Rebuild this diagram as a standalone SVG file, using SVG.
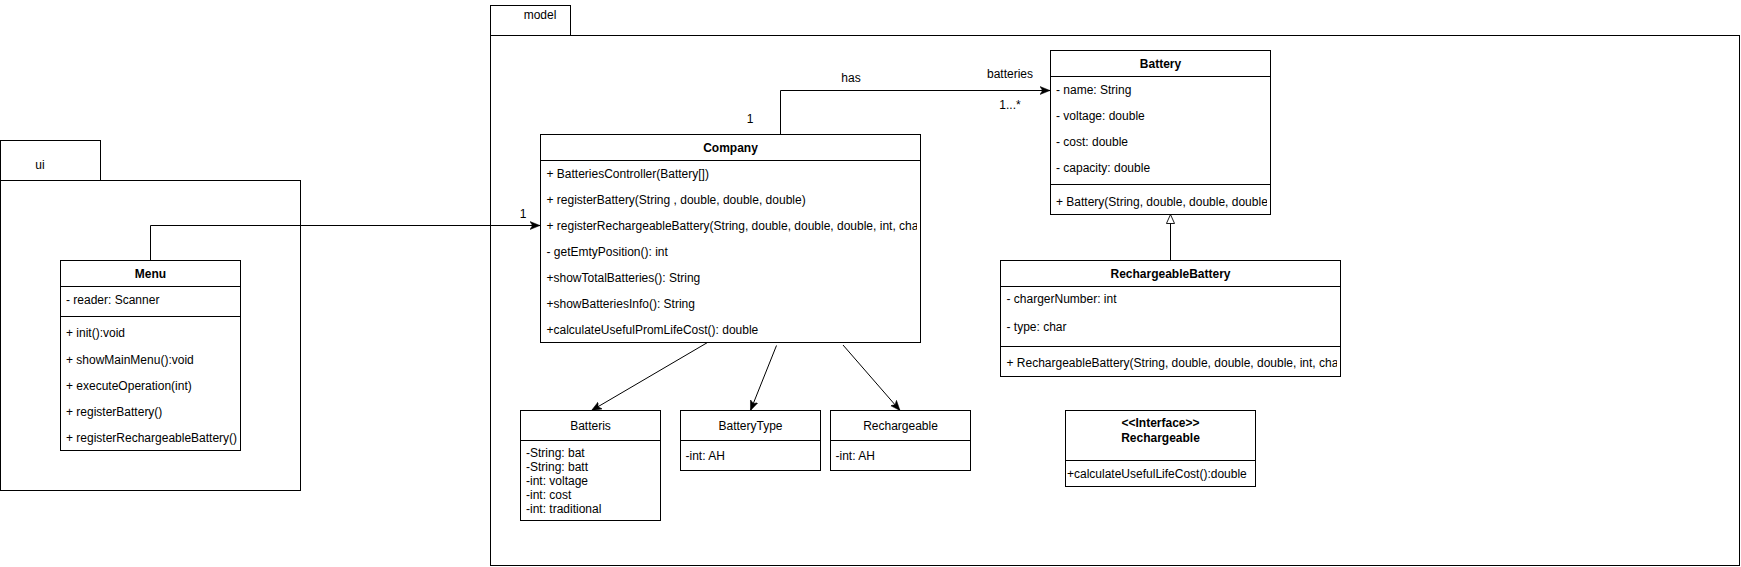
<svg xmlns="http://www.w3.org/2000/svg" width="1741" height="567" viewBox="0 0 1741 567">
<style>
text{font-family:"Liberation Sans",Arial,sans-serif;font-size:12px;fill:#000}
.b{font-weight:bold}
.m{text-anchor:middle}
.box{fill:#fff;stroke:#000;stroke-width:1}
.ln{stroke:#000;stroke-width:1;fill:none}
</style>
<defs>
<marker id="arr" viewBox="0 0 10 10" refX="10" refY="5" markerWidth="10" markerHeight="10" markerUnits="userSpaceOnUse" orient="auto">
<path d="M0,1 L10,5 L0,9 L2.5,5 Z" fill="#000" stroke="#000" stroke-width="0.5"/>
</marker>
<marker id="tri" viewBox="0 0 10 10" refX="10" refY="5" markerWidth="9" markerHeight="9" markerUnits="userSpaceOnUse" orient="auto">
<path d="M0,0.5 L10,5 L0,9.5 Z" fill="#fff" stroke="#000" stroke-width="1"/>
</marker>
<clipPath id="cCompany"><rect x="540" y="134" width="377" height="209"/></clipPath>
<clipPath id="cBattery"><rect x="1050" y="50" width="217" height="165"/></clipPath>
<clipPath id="cRB"><rect x="1000" y="260" width="337" height="117"/></clipPath>
</defs>

<g id="pkg-ui">
<rect class="box" x="0.5" y="140.5" width="100" height="40"/>
<rect class="box" x="0.5" y="180.5" width="300" height="310"/>
<text class="m" x="40" y="169">ui</text>
</g>

<g id="pkg-model">
<rect class="box" x="490.5" y="5.5" width="80" height="30"/>
<rect class="box" x="490.5" y="35.5" width="1249" height="530"/>
<text class="m" x="540" y="19">model</text>
</g>

<g id="connectors">
<polyline class="ln" points="150.5,260.5 150.5,225.5 540,225.5" marker-end="url(#arr)"/>
<polyline class="ln" points="780.5,134.5 780.5,90.5 1050,90.5" marker-end="url(#arr)"/>
<line class="ln" x1="1170.5" y1="260.5" x2="1170.5" y2="214.5" marker-end="url(#tri)"/>
<line class="ln" x1="707.5" y1="342.5" x2="591.5" y2="410.5" marker-end="url(#arr)"/>
<line class="ln" x1="776.5" y1="345.5" x2="750.5" y2="410.5" marker-end="url(#arr)"/>
<line class="ln" x1="843" y1="345" x2="900" y2="410.5" marker-end="url(#arr)"/>
<text class="m" x="523" y="218">1</text>
<text class="m" x="851" y="82">has</text>
<text class="m" x="750" y="123">1</text>
<text class="m" x="1010" y="78">batteries</text>
<text class="m" x="1010" y="109">1...*</text>
</g>

<g id="Menu">
<rect class="box" x="60.5" y="260.5" width="180" height="190"/>
<line class="ln" x1="60.5" y1="286.5" x2="240.5" y2="286.5"/>
<line class="ln" x1="60.5" y1="316.5" x2="240.5" y2="316.5"/>
<text class="b m" x="150.5" y="278">Menu</text>
<text x="66" y="304">- reader: Scanner</text>
<text x="66" y="337">+ init():void</text>
<text x="66" y="364">+ showMainMenu():void</text>
<text x="66" y="390">+ executeOperation(int)</text>
<text x="66" y="416">+ registerBattery()</text>
<text x="66" y="442">+ registerRechargeableBattery()</text>
</g>

<g id="Company">
<rect class="box" x="540.5" y="134.5" width="380" height="208"/>
<line class="ln" x1="540.5" y1="160.5" x2="920.5" y2="160.5"/>
<text class="b m" x="730.5" y="152">Company</text>
<g clip-path="url(#cCompany)">
<text x="546.5" y="178">+ BatteriesController(Battery[])</text>
<text x="546.5" y="204">+ registerBattery(String , double, double, double)</text>
<text x="546.5" y="230">+ registerRechargeableBattery(String, double, double, double, int, cha</text>
<text x="546.5" y="256">- getEmtyPosition(): int</text>
<text x="546.5" y="282">+showTotalBatteries(): String</text>
<text x="546.5" y="308">+showBatteriesInfo(): String</text>
<text x="546.5" y="334">+calculateUsefulPromLifeCost(): double</text>
</g>
</g>

<g id="Battery">
<rect class="box" x="1050.5" y="50.5" width="220" height="164"/>
<line class="ln" x1="1050.5" y1="76.5" x2="1270.5" y2="76.5"/>
<line class="ln" x1="1050.5" y1="184.5" x2="1270.5" y2="184.5"/>
<text class="b m" x="1160.5" y="68">Battery</text>
<g clip-path="url(#cBattery)">
<text x="1056" y="94">- name: String</text>
<text x="1056" y="120">- voltage: double</text>
<text x="1056" y="146">- cost: double</text>
<text x="1056" y="172">- capacity: double</text>
<text x="1056" y="206">+ Battery(String, double, double, double</text>
</g>
</g>

<g id="RechargeableBattery">
<rect class="box" x="1000.5" y="260.5" width="340" height="116"/>
<line class="ln" x1="1000.5" y1="286.5" x2="1340.5" y2="286.5"/>
<line class="ln" x1="1000.5" y1="346.5" x2="1340.5" y2="346.5"/>
<text class="b m" x="1170.5" y="278">RechargeableBattery</text>
<g clip-path="url(#cRB)">
<text x="1006.5" y="303">- chargerNumber: int</text>
<text x="1006.5" y="331">- type: char</text>
<text x="1006.5" y="367">+ RechargeableBattery(String, double, double, double, int, cha</text>
</g>
</g>

<g id="Batteris">
<rect class="box" x="520.5" y="410.5" width="140" height="110"/>
<line class="ln" x1="520.5" y1="440.5" x2="660.5" y2="440.5"/>
<text class="m" x="590.5" y="430">Batteris</text>
<text x="526" y="457">-String: bat</text>
<text x="526" y="471">-String: batt</text>
<text x="526" y="485">-int: voltage</text>
<text x="526" y="499">-int: cost</text>
<text x="526" y="513">-int: traditional</text>
</g>

<g id="BatteryType">
<rect class="box" x="680.5" y="410.5" width="140" height="60"/>
<line class="ln" x1="680.5" y1="440.5" x2="820.5" y2="440.5"/>
<text class="m" x="750.5" y="430">BatteryType</text>
<text x="685.5" y="460">-int: AH</text>
</g>

<g id="Rechargeable">
<rect class="box" x="830.5" y="410.5" width="140" height="60"/>
<line class="ln" x1="830.5" y1="440.5" x2="970.5" y2="440.5"/>
<text class="m" x="900.5" y="430">Rechargeable</text>
<text x="835.5" y="460">-int: AH</text>
</g>

<g id="IRechargeable">
<rect class="box" x="1065.5" y="410.5" width="190" height="76"/>
<line class="ln" x1="1065.5" y1="460.5" x2="1255.5" y2="460.5"/>
<text class="b m" x="1160.5" y="427">&lt;&lt;Interface&gt;&gt;</text>
<text class="b m" x="1160.5" y="442">Rechargeable</text>
<text x="1067" y="478">+calculateUsefulLifeCost():double</text>
</g>
</svg>
